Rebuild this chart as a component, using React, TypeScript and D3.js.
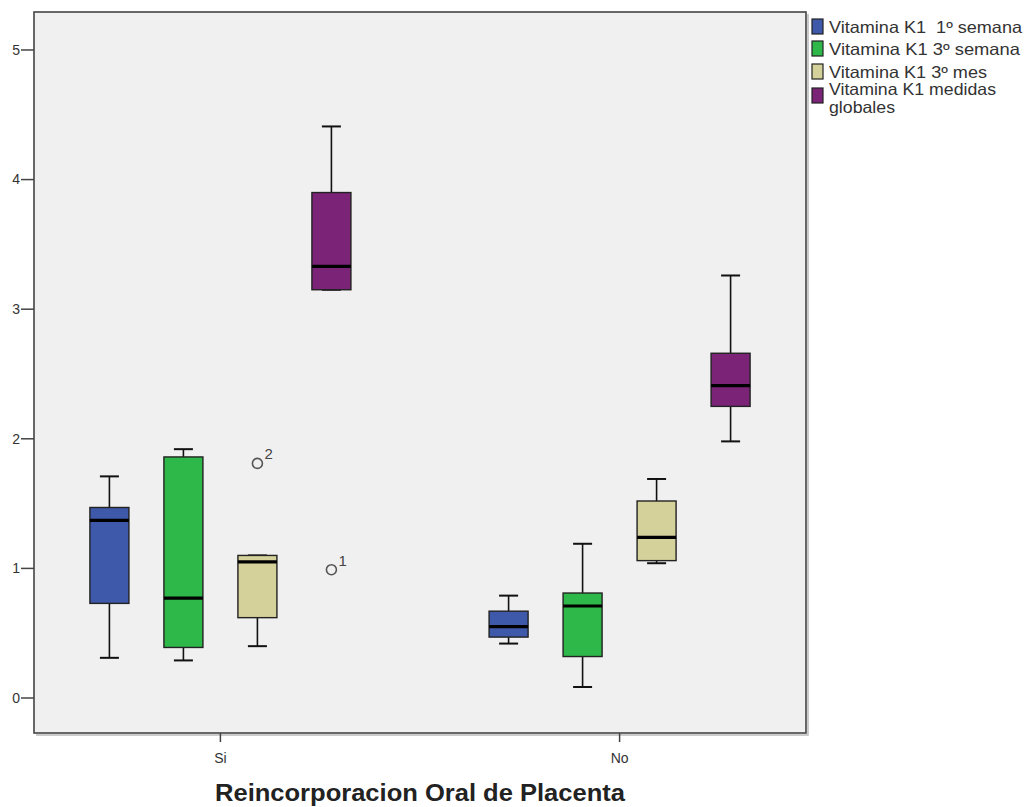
import React from "react";
import * as d3 from "d3";

const groups = ["Si", "No"];
const seriesNames = [
  "Vitamina K1  1º semana",
  "Vitamina K1 3º semana",
  "Vitamina K1 3º mes",
  "Vitamina K1 medidas globales",
];
const seriesColors = ["#3e58aa", "#2fb84a", "#d5d19a", "#7b2377"];
// per series: [Si, No]
const whiskerLow = [[0.31, 0.42], [0.29, 0.085], [0.40, 1.04], [3.15, 1.98]];
const q1 = [[0.73, 0.47], [0.39, 0.32], [0.62, 1.06], [3.15, 2.25]];
const median = [[1.37, 0.55], [0.77, 0.71], [1.05, 1.24], [3.33, 2.41]];
const q3 = [[1.47, 0.67], [1.86, 0.81], [1.10, 1.52], [3.90, 2.66]];
const whiskerHigh = [[1.71, 0.79], [1.92, 1.19], [1.10, 1.69], [4.41, 3.26]];
const outlierGroup = ["Si", "Si"];
const outlierSeries = [2, 3];
const outlierValue = [1.81, 0.99];
const outlierLabel = ["2", "1"];
const yTicks = [0, 1, 2, 3, 4, 5];
const xTitle = "Reincorporacion Oral de Placenta";

const W = 1027, H = 807;
const L = 34, R = 806, T = 12, B = 733;
const font = "'Liberation Sans', Arial, sans-serif";

export default function App() {
  const y = d3.scaleLinear().domain([-0.27, 5.293]).range([B, T]);
  const x = d3.scalePoint<string>().domain(groups).range([L, R]).padding(0.467);
  const inner = d3.scaleBand<number>().domain(d3.range(seriesNames.length)).range([-148, 148]);
  const boxW = 39, capW = 19;

  const boxes: React.ReactNode[] = [];
  seriesNames.forEach((_, s) => {
    groups.forEach((g, gi) => {
      const cx = (x(g) as number) + (inner(s) as number) + inner.bandwidth() / 2;
      const yq1 = y(q1[s][gi]), yq3 = y(q3[s][gi]);
      const ylo = y(whiskerLow[s][gi]), yhi = y(whiskerHigh[s][gi]);
      const ym = y(median[s][gi]);
      boxes.push(
        <g key={`${s}-${gi}`}>
          <line x1={cx} x2={cx} y1={yhi} y2={yq3} stroke="#111" strokeWidth={1.6} />
          <line x1={cx} x2={cx} y1={yq1} y2={ylo} stroke="#111" strokeWidth={1.6} />
          <line x1={cx - capW / 2} x2={cx + capW / 2} y1={yhi} y2={yhi} stroke="#111" strokeWidth={2} />
          <line x1={cx - capW / 2} x2={cx + capW / 2} y1={ylo} y2={ylo} stroke="#111" strokeWidth={2} />
          <rect x={cx - boxW / 2} y={yq3} width={boxW} height={Math.max(0.5, yq1 - yq3)}
            fill={seriesColors[s]} stroke="#222" strokeWidth={1.4} />
          <line x1={cx - boxW / 2} x2={cx + boxW / 2} y1={ym} y2={ym} stroke="#000" strokeWidth={3.2} />
        </g>
      );
    });
  });

  const outliers = outlierValue.map((v, i) => {
    const cx = (x(outlierGroup[i]) as number) + (inner(outlierSeries[i]) as number) + inner.bandwidth() / 2;
    const cy = y(v);
    return (
      <g key={`o${i}`}>
        <circle cx={cx} cy={cy} r={5} fill="none" stroke="#555" strokeWidth={1.6} />
        <text x={cx + 7} y={cy - 4} fontSize={15} fill="#444" fontFamily={font}>{outlierLabel[i]}</text>
      </g>
    );
  });

  const legendRows = [27, 49, 72, 96];
  const legendLines = [["Vitamina K1  1º semana"], ["Vitamina K1 3º semana"], ["Vitamina K1 3º mes"], ["Vitamina K1 medidas", "globales"]];
  const legendWidths = [[193], [191], [158], [167, 66]];

  return (
    <svg width={W} height={H} style={{ position: "absolute", left: 0, top: 0, background: "#fff" }}>
      <rect x={L} y={T} width={R - L} height={B - T} fill="#f0f0f0" />
      <polyline points={`${L + 2},${B + 2} ${R + 2},${B + 2} ${R + 2},${T + 2}`} fill="none" stroke="#bbb" strokeWidth={1.5} />
      <rect x={L} y={T} width={R - L} height={B - T} fill="none" stroke="#444" strokeWidth={1.6} />
      {yTicks.map((t) => (
        <g key={`yt${t}`}>
          <line x1={L - 13} x2={L} y1={y(t)} y2={y(t)} stroke="#444" strokeWidth={1.5} />
          <text x={L - 14} y={y(t)} dy="0.35em" textAnchor="end" fontSize={14} fill="#333" fontFamily={font}>{t}</text>
        </g>
      ))}
      {groups.map((g) => (
        <g key={`xt${g}`}>
          <line x1={x(g)} x2={x(g)} y1={B} y2={B + 9} stroke="#444" strokeWidth={1.5} />
          <text x={x(g)} y={B + 30} textAnchor="middle" fontSize={14} fill="#333" fontFamily={font}>{g}</text>
        </g>
      ))}
      <text x={420} y={801} textAnchor="middle" fontSize={23} fontWeight="bold" fill="#222" fontFamily={font}
        textLength={410} lengthAdjust="spacingAndGlyphs">{xTitle}</text>
      {boxes}
      {outliers}
      {seriesNames.map((n, i) => {
        const rowY = legendRows[i];
        const lines = legendLines[i];
        return (
          <g key={`lg${i}`}>
            <rect x={812} y={rowY - 8} width={11} height={15} fill={seriesColors[i]} stroke="#222" strokeWidth={1.2} />
            {lines.map((ln, k) => (
              <text key={k} x={829} y={(i === 3 ? rowY - 7 : rowY) + k * 18} dy="0.35em" fontSize={16.5} fill="#333" fontFamily={font}
                textLength={legendWidths[i][k]} lengthAdjust="spacingAndGlyphs" style={{ whiteSpace: "pre" }}>{ln}</text>
            ))}
          </g>
        );
      })}
    </svg>
  );
}
